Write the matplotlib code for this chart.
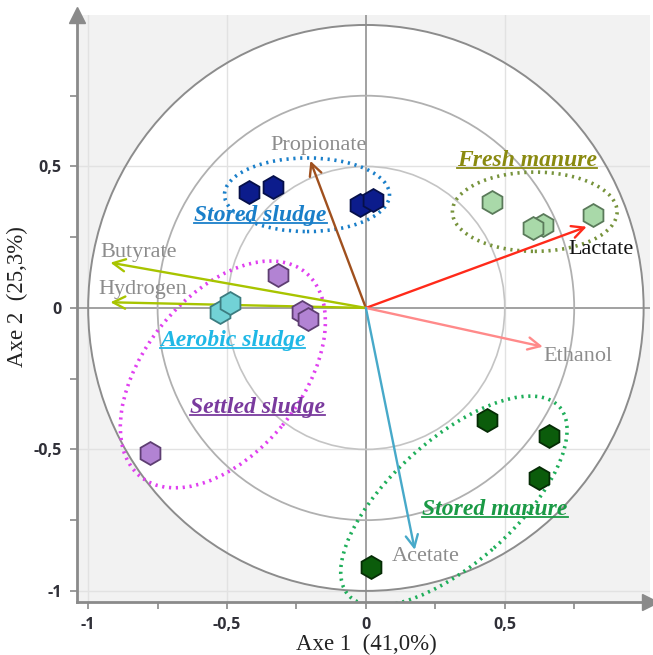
import matplotlib
matplotlib.use("Agg")
import matplotlib.pyplot as plt
from matplotlib.patches import Circle, Ellipse
from matplotlib.lines import Line2D
import numpy as np

# ---- sample scores on the first two axes ----
groups = ["Stored sludge", "Fresh manure", "Aerobic sludge", "Settled sludge", "Stored manure"]
stored_sludge_x = [-0.42, -0.335, -0.02, 0.025]
stored_sludge_y = [0.41, 0.428, 0.364, 0.38]
fresh_manure_x = [0.453, 0.637, 0.60, 0.817]
fresh_manure_y = [0.375, 0.293, 0.283, 0.329]
aerobic_sludge_x = [-0.525, -0.49]
aerobic_sludge_y = [-0.013, 0.018]
settled_sludge_x = [-0.317, -0.23, -0.21, -0.777]
settled_sludge_y = [0.117, -0.014, -0.04, -0.512]
stored_manure_x = [0.435, 0.658, 0.622, 0.02]
stored_manure_y = [-0.396, -0.452, -0.60, -0.915]

# ---- variable loadings ----
variables = ["Propionate", "Butyrate", "Hydrogen", "Lactate", "Ethanol", "Acetate"]
var_x = [-0.2, -0.92, -0.92, 0.795, 0.637, 0.176]
var_y = [0.52, 0.16, 0.02, 0.287, -0.137, -0.855]

x_ticks = [-1, -0.5, 0, 0.5]
x_tick_labels = ["-1", "-0,5", "0", "0,5"]
y_ticks = [-1, -0.5, 0, 0.5]
y_tick_labels = ["-1", "-0,5", "0", "0,5"]
x_label = "Axe 1  (41,0%)"
y_label = "Axe 2  (25,3%)"

SERIF = ["Liberation Serif", "DejaVu Serif"]

fig = plt.figure(figsize=(6.53, 6.55), dpi=100)
ax = fig.add_axes([0.118, 0.081, 0.877, 0.896])
ax.set_xlim(-1.04, 1.022)
ax.set_ylim(-1.039, 1.035)
ax.set_facecolor("#f2f2f2")

# white correlation disc and reference circles
ax.add_patch(Circle((0, 0), 1.0, facecolor="white", edgecolor="none", zorder=0))
for gx in [-1, -0.5, 0.5]:
    ax.axvline(gx, color="#e2e2e2", lw=1.0, zorder=0.5)
for gy in [-1, -0.5, 0.5]:
    ax.axhline(gy, color="#e2e2e2", lw=1.0, zorder=0.5)
ax.axvline(0, color="#9a9a9a", lw=1.3, zorder=0.8)
ax.axhline(0, color="#9a9a9a", lw=1.3, zorder=0.8)
for r, c, lw in [(0.5, "#c4c4c4", 1.2), (0.75, "#b0b0b0", 1.3), (1.0, "#8c8c8c", 1.4)]:
    ax.add_patch(Circle((0, 0), r, facecolor="none", edgecolor=c, lw=lw, zorder=1))

# dotted group ellipses
ellipses = [
    ((-0.212, 0.40), 0.594, 0.26, 0, "#1a7fc9"),
    ((0.608, 0.34), 0.593, 0.28, 0, "#77933c"),
    ((-0.515, -0.235), 0.935, 0.56, 50, "#e040f0"),
    ((0.317, -0.682), 1.01, 0.44, 41, "#1fae5a"),
]
for (cx, cy), w, h, ang, col in ellipses:
    ax.add_patch(Ellipse((cx, cy), w, h, angle=ang, facecolor="none", edgecolor=col,
                         lw=2.6, linestyle=(0, (0.6, 1.3)), zorder=2))

# variable arrows
arrow_colors = ["#a0501e", "#a8c400", "#a8c400", "#ff2a1a", "#ff8a8a", "#47a9c9"]
for vx, vy, col in zip(var_x, var_y, arrow_colors):
    ax.annotate("", xy=(vx, vy), xytext=(0, 0),
                arrowprops=dict(arrowstyle="->", color=col, lw=1.7, mutation_scale=22,
                                shrinkA=0, shrinkB=0), zorder=3)

var_label_pos = [(-0.17, 0.575, "center"), (-0.955, 0.195, "left"), (-0.965, 0.065, "left"),
                 (0.73, 0.205, "left"), (0.64, -0.17, "left"), (0.095, -0.88, "left")]
var_label_colors = ["#8c8c8c", "#8c8c8c", "#8c8c8c", "#111111", "#8c8c8c", "#8c8c8c"]
for name, (lx, ly, ha), col in zip(variables, var_label_pos, var_label_colors):
    ax.text(lx, ly, name, ha=ha, va="center", fontsize=16, color=col, family=SERIF, zorder=4)

# sample markers
marker_styles = [
    (stored_sludge_x, stored_sludge_y, "#0c1c8c", "#06104a"),
    (fresh_manure_x, fresh_manure_y, "#a9d9a9", "#5a7a5a"),
    (aerobic_sludge_x, aerobic_sludge_y, "#72d2d6", "#3c7c80"),
    (settled_sludge_x, settled_sludge_y, "#b283d3", "#5e3e72"),
    (stored_manure_x, stored_manure_y, "#0b5c0b", "#052c05"),
]
for xs, ys, fc, ec in marker_styles:
    ax.plot(xs, ys, "h", ms=16.5, mfc=fc, mec=ec, mew=1.3, ls="none", zorder=5)

# group labels (bold italic, underlined)
group_label_pos = [(-0.38, 0.325), (0.58, 0.52), (-0.48, -0.115), (-0.39, -0.352), (0.465, -0.714)]
group_colors = ["#1a7fc9", "#8a8a10", "#1fb8e6", "#7a3a9e", "#1a9a45"]
group_texts = []
for name, (gx, gy), col in zip(groups, group_label_pos, group_colors):
    t = ax.text(gx, gy, name, ha="center", va="center", fontsize=17, color=col,
                family=SERIF, weight="bold", style="italic", zorder=6)
    group_texts.append((t, col))

# axes frame
for s in ["top", "right"]:
    ax.spines[s].set_visible(False)
for s in ["left", "bottom"]:
    ax.spines[s].set_color("#8a8a8a")
    ax.spines[s].set_linewidth(2)
ax.plot(1.0, 0, ">", color="#8a8a8a", ms=11, transform=ax.transAxes, clip_on=False, zorder=7)
ax.plot(0, 1.0, "^", color="#8a8a8a", ms=11, transform=ax.transAxes, clip_on=False, zorder=7)

ax.set_xticks(x_ticks)
ax.set_xticklabels(x_tick_labels)
ax.set_yticks(y_ticks)
ax.set_yticklabels(y_tick_labels)
ax.set_xticks([-0.75, -0.25, 0.25, 0.75], minor=True)
ax.set_yticks([-0.75, -0.25, 0.25, 0.75], minor=True)
ax.tick_params(which="both", direction="out", color="#8a8a8a", width=1.2)
ax.tick_params(which="major", length=5, pad=6, labelsize=11.5, labelcolor="#303038")
ax.tick_params(which="minor", length=5)
for lab in ax.get_xticklabels() + ax.get_yticklabels():
    lab.set_family(["Open Sans", "DejaVu Sans"])
    lab.set_weight("bold")

ax.set_xlabel(x_label, fontsize=16.5, family=SERIF, color="#222222")
ax.xaxis.set_label_coords(0.505, -0.054)
ax.set_ylabel(y_label, fontsize=16.5, family=SERIF, color="#222222")
ax.yaxis.set_label_coords(-0.085, 0.52)

# underline group labels
fig.canvas.draw()
renderer = fig.canvas.get_renderer()
inv = fig.transFigure.inverted()
for t, col in group_texts:
    bb = t.get_window_extent(renderer)
    (x0, y0), (x1, _) = inv.transform([(bb.x0, bb.y0 + 3), (bb.x1, bb.y0 + 3)])
    fig.add_artist(Line2D([x0, x1], [y0, y0], color=col, lw=1.3, zorder=6))

fig.savefig("out.png", dpi=100)
